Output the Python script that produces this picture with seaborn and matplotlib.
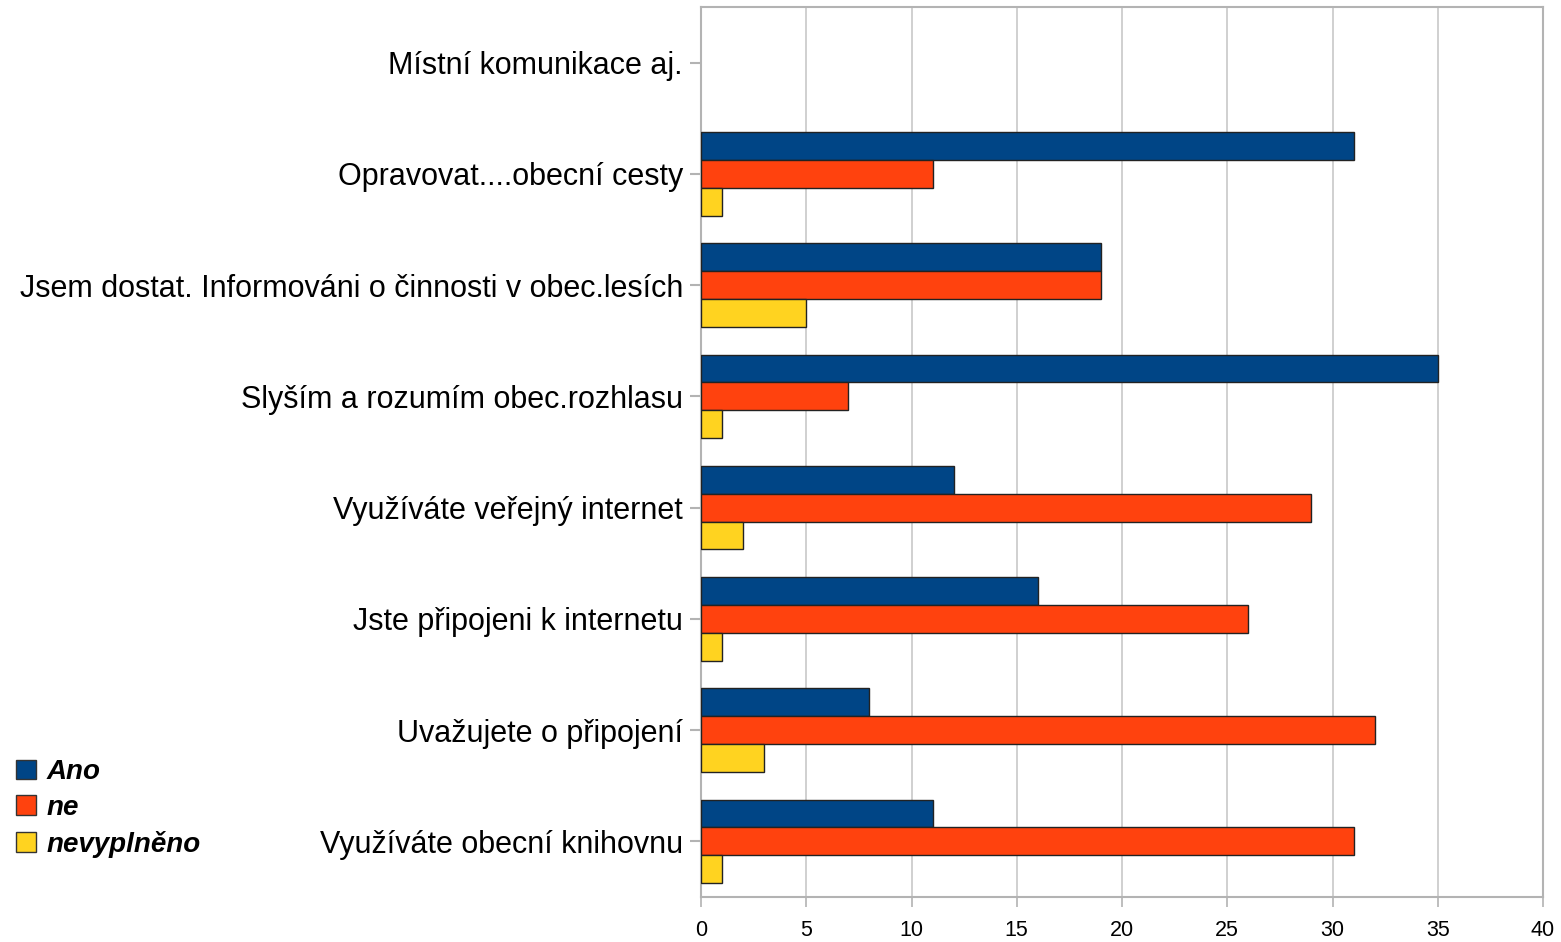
import matplotlib
matplotlib.use("Agg")
import matplotlib.pyplot as plt
import seaborn as sns
import pandas as pd
from matplotlib.patches import Patch

categories = [
    "Místní komunikace aj.",
    "Opravovat....obecní cesty",
    "Jsem dostat. Informováni o činnosti v obec.lesích",
    "Slyším a rozumím obec.rozhlasu",
    "Využíváte veřejný internet",
    "Jste připojeni k internetu",
    "Uvažujete o připojení",
    "Využíváte obecní knihovnu",
]
series_names = ["Ano", "ne", "nevyplněno"]
ano = [0, 31, 19, 35, 12, 16, 8, 11]
ne = [0, 11, 19, 7, 29, 26, 32, 31]
nevyplneno = [0, 1, 5, 1, 2, 1, 3, 1]
colors = ["#004586", "#ff420e", "#ffd320"]
xticks = [0, 5, 10, 15, 20, 25, 30, 35, 40]

rows = []
for name, vals in zip(series_names, [ano, ne, nevyplneno]):
    for c, v in zip(categories, vals):
        rows.append({"cat": c, "series": name, "value": v})
df = pd.DataFrame(rows)

sns.set_theme(style="white")
plt.rcParams["font.family"] = ["Liberation Sans", "DejaVu Sans"]

fig = plt.figure(figsize=(15.61, 9.42), dpi=100)
ax = fig.add_axes([701 / 1561, 1 - 897 / 942, (1543 - 701) / 1561, (897 - 7) / 942])

sns.barplot(data=df, y="cat", x="value", hue="series", order=categories,
            hue_order=series_names, palette=colors, orient="h", width=0.75,
            edgecolor="#222222", linewidth=1.0, saturation=1, ax=ax, legend=False,
            zorder=3)
for p in ax.patches:
    if p.get_width() == 0:
        p.set_visible(False)

ax.set_xlim(0, 40)
ax.set_xticks(xticks)
ax.set_xticklabels([str(t) for t in xticks], fontsize=15.5, color="black")
ax.set_ylim(len(categories) - 0.5, -0.5)
ax.set_xlabel("")
ax.set_ylabel("")
for lab in ax.get_yticklabels():
    lab.set_color("black")
ax.tick_params(axis="y", labelsize=22, length=8, width=1.5, color="#b3b3b3", direction="out", left=True, pad=5)
ax.tick_params(axis="x", length=7.5, width=1.2, color="#b3b3b3", direction="out", bottom=True, pad=9)
ax.xaxis.grid(True, color="#c8c8c8", linewidth=1.2, zorder=0)
ax.set_axisbelow(True)
for s in ax.spines.values():
    s.set_color("#b3b3b3")
    s.set_linewidth(1.5)

handles = [Patch(facecolor=c, edgecolor="#333333", linewidth=1.0) for c in colors]
leg = fig.legend(handles, series_names, loc="upper left", bbox_to_anchor=(0.003, 1 - 748 / 942),
                 frameon=False, prop={"size": 20, "weight": "bold", "style": "italic"},
                 handlelength=0.72, handleheight=0.72, handletextpad=0.4, labelspacing=0.35,
                 borderaxespad=0)
for t in leg.get_texts():
    t.set_color("black")

fig.savefig("out.png", dpi=100)
